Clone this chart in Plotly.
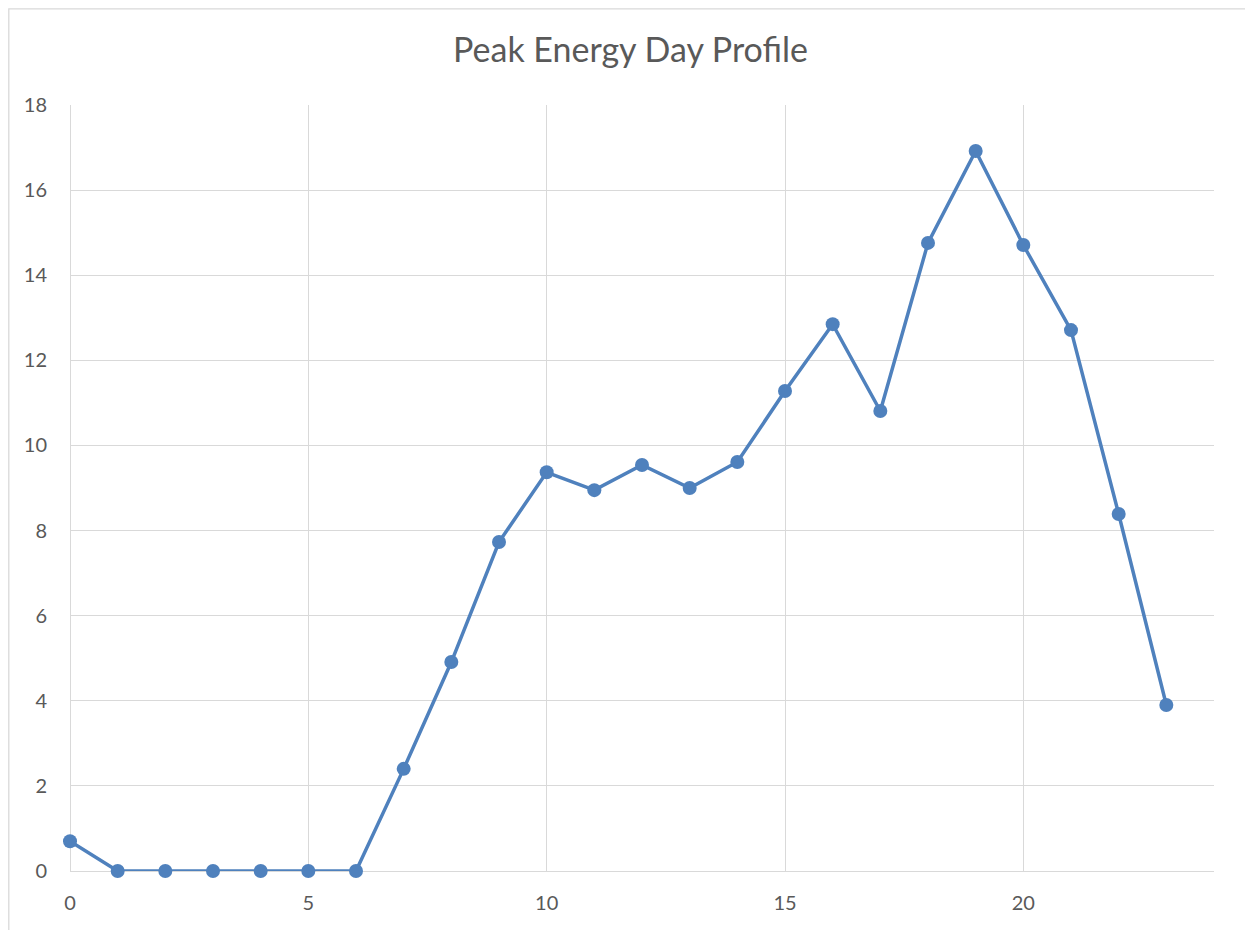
import plotly.graph_objects as go

hours = list(range(24))
energy = [0.70, 0.0, 0.0, 0.0, 0.0, 0.0, 0.0, 2.40, 4.91, 7.73, 9.37, 8.95,
          9.54, 9.00, 9.61, 11.28, 12.85, 10.81, 14.76, 16.92, 14.71, 12.71, 8.39, 3.90]

title_text = "Peak Energy Day Profile"
line_color = "#4f81bd"
grid_color = "#d9d9d9"
text_color = "#595959"
font_family = "Lato, 'Open Sans', sans-serif"

fig = go.Figure()
fig.add_trace(go.Scatter(
    x=hours, y=energy, mode="lines+markers",
    line=dict(color=line_color, width=3.5),
    marker=dict(color=line_color, size=14),
    cliponaxis=False, showlegend=False,
))

fig.update_layout(
    width=1253, height=930,
    margin=dict(l=62, r=47, t=97, b=67),
    paper_bgcolor="white", plot_bgcolor="white",
    title=dict(text=title_text, x=(630.5 - 8) / 1253, xanchor="center", xref="container",
               y=1 - 42 / 930, yanchor="middle", yref="container",
               font=dict(family=font_family, size=34, color=text_color)),
    font=dict(family=font_family, size=20, color=text_color),
    xaxis=dict(range=[0, 24], tick0=0, dtick=5, showgrid=True, gridcolor=grid_color,
               gridwidth=1.4, zeroline=True, zerolinecolor=grid_color, zerolinewidth=1.4,
               showline=False, ticks="", ticklabelstandoff=18,
               tickfont=dict(size=20, color=text_color)),
    yaxis=dict(range=[0, 18], tick0=0, dtick=2, showgrid=True, gridcolor=grid_color,
               gridwidth=1.4, zeroline=True, zerolinecolor=grid_color, zerolinewidth=1.4,
               showline=False, ticks="", ticklabelstandoff=22,
               tickfont=dict(size=20, color=text_color)),
    shapes=[dict(type="rect", xref="paper", yref="paper",
                 x0=(0.8 - 62) / 1144, x1=1.2, y0=-0.2, y1=(863 - 0.8) / 766,
                 line=dict(color=grid_color, width=1.3), layer="below")],
)

fig.write_html("out.html")
